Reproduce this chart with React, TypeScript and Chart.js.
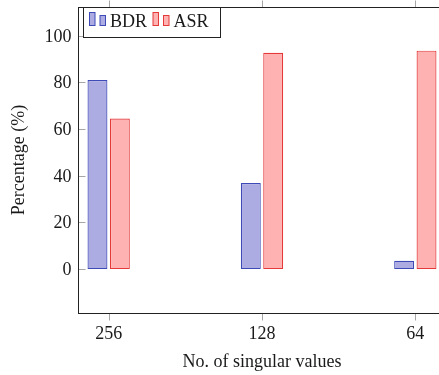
import React, { useEffect, useRef } from 'react';
import { Chart, registerables } from 'chart.js';

Chart.register(...registerables);

const categories = ['256', '128', '64'];
const seriesLabels = ['BDR', 'ASR'];
const bdrValues = [81, 36.9, 3.6];
const asrValues = [64.5, 92.7, 93.6];
const yTicks = [0, 20, 40, 60, 80, 100];
const xTitle = 'No. of singular values';
const yTitle = 'Percentage (%)';

const CANVAS_W = 460;
const CANVAS_H = 375;
const FONT = '18px "Liberation Serif", "DejaVu Serif", serif';
const TEXT = '#1a1a1a';
const TICK = '#a6a6a6';

const bdrStyle = { fill: 'rgb(172,172,226)', stroke: 'rgb(62,74,182)' };
const asrStyle = { fill: 'rgb(255,178,178)', stroke: 'rgb(228,58,58)' };

const px = (v: number) => Math.round(v) + 0.5;

const framePlugin = {
  id: 'pgfFrame',
  afterDatasetsDraw(chart: any) {
    const ctx: CanvasRenderingContext2D = chart.ctx;
    const { left, right, top, bottom } = chart.chartArea;
    const xs = chart.scales.x;
    const ys = chart.scales.y;
    const L = px(left), R = px(right), T = px(top), B = px(bottom);
    ctx.save();
    // ticks
    ctx.strokeStyle = TICK;
    ctx.lineWidth = 1;
    ctx.beginPath();
    yTicks.forEach((v) => {
      const y = px(ys.getPixelForValue(v));
      ctx.moveTo(L, y); ctx.lineTo(L + 7, y);
      ctx.moveTo(R - 7, y); ctx.lineTo(R, y);
    });
    categories.forEach((_, i) => {
      const x = px(xs.getPixelForValue(i));
      ctx.moveTo(x, B); ctx.lineTo(x, B + 7);
      ctx.moveTo(x, T - 7); ctx.lineTo(x, T);
    });
    ctx.stroke();
    // frame
    ctx.strokeStyle = '#222';
    ctx.lineWidth = 1;
    ctx.strokeRect(L, T, R - L, B - T);

    // tick labels
    ctx.fillStyle = TEXT;
    ctx.font = FONT;
    ctx.textAlign = 'right';
    ctx.textBaseline = 'alphabetic';
    yTicks.forEach((v) => {
      const y = ys.getPixelForValue(v);
      ctx.fillText(String(v), left - 6.5, y + 6);
    });
    ctx.textAlign = 'center';
    categories.forEach((c, i) => {
      const x = xs.getPixelForValue(i);
      ctx.fillText(c, x, bottom + 26);
    });
    // axis titles
    ctx.fillText(xTitle, (left + right) / 2, 366.5);
    ctx.save();
    ctx.translate(24, (top + bottom) / 2);
    ctx.rotate(-Math.PI / 2);
    ctx.fillText(yTitle, 0, 0);
    ctx.restore();

    // legend
    const lx = px(left + 5), ly = T, lw = 137, lh = 30;
    ctx.fillStyle = '#fff';
    ctx.fillRect(lx, ly, lw, lh);
    ctx.strokeStyle = '#222';
    ctx.strokeRect(lx, ly, lw, lh);
    const styles = [bdrStyle, asrStyle];
    let cx = lx + 6;
    ctx.textAlign = 'left';
    seriesLabels.forEach((lab, k) => {
      const st = styles[k];
      ctx.lineWidth = 1;
      ctx.fillStyle = st.fill;
      ctx.strokeStyle = st.stroke;
      ctx.fillRect(cx, ly + 5, 5.5, 13);
      ctx.strokeRect(cx, ly + 5, 5.5, 13);
      ctx.fillRect(cx + 10.5, ly + 8, 5.5, 10);
      ctx.strokeRect(cx + 10.5, ly + 8, 5.5, 10);
      ctx.fillStyle = TEXT;
      ctx.fillText(lab, cx + 20.5, ly + 19.5);
      cx += 20.5 + ctx.measureText(lab).width + 6;
    });
    ctx.restore();
  },
};

export default function App() {
  const ref = useRef<HTMLCanvasElement>(null);
  useEffect(() => {
    const canvas = ref.current;
    if (!canvas) return;
    const mk = (vals: number[]) => vals.map((v, i) => ({ x: i, y: v }));
    const common = {
      borderWidth: 1.2,
      borderSkipped: false,
      categoryPercentage: 0.292,
      barPercentage: 0.89,
    };
    const chart = new Chart(canvas, {
      type: 'bar',
      data: {
        datasets: [
          { label: seriesLabels[0], data: mk(bdrValues), backgroundColor: bdrStyle.fill, borderColor: bdrStyle.stroke, ...common },
          { label: seriesLabels[1], data: mk(asrValues), backgroundColor: asrStyle.fill, borderColor: asrStyle.stroke, ...common },
        ],
      } as any,
      options: {
        responsive: false,
        animation: false,
        devicePixelRatio: 1,
        layout: { padding: { left: 78, right: CANVAS_W - 446, top: 7, bottom: CANVAS_H - 313 } },
        scales: {
          x: {
            type: 'linear', min: -0.2, max: 2.2, display: false, offset: false,
            grid: { offset: false },
            afterBuildTicks: (s: any) => { s.ticks = categories.map((_, i) => ({ value: i })); },
          },
          y: { type: 'linear', min: -18.8, max: 112.3, display: false },
        },
        plugins: { legend: { display: false }, tooltip: { enabled: false } },
      } as any,
      plugins: [framePlugin],
    });
    let alive = true;
    if ((document as any).fonts && (document as any).fonts.load) {
      (document as any).fonts.load(FONT).then(() => { if (alive) chart.update(); }).catch(() => {});
    }
    return () => { alive = false; chart.destroy(); };
  }, []);
  return (
    <div style={{ position: 'fixed', left: 0, top: 0, width: 439, height: 375, overflow: 'hidden', background: '#fff' }}>
      <canvas ref={ref} width={CANVAS_W} height={CANVAS_H} style={{ display: 'block', width: CANVAS_W, height: CANVAS_H }} />
    </div>
  );
}
